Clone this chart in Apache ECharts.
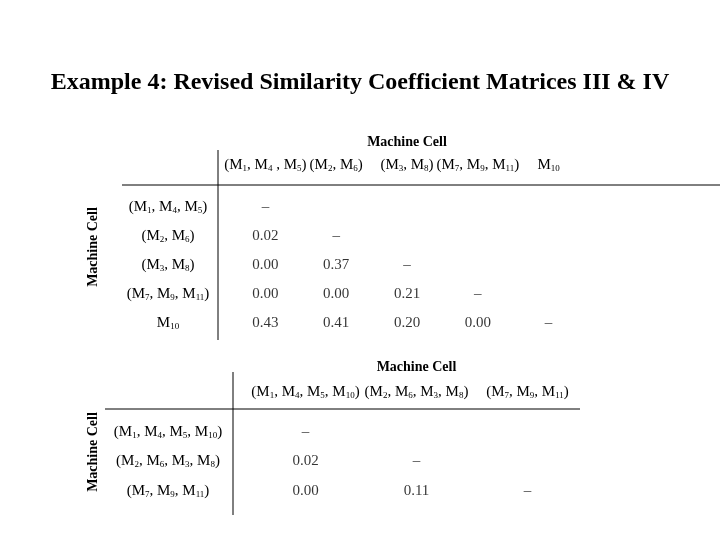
<!DOCTYPE html>
<html>
<head>
<meta charset="utf-8">
<script src="https://cdn.jsdelivr.net/npm/echarts@6/dist/echarts.min.js"></script>
<style>body{margin:0;background:#fff}</style>
</head>
<body>
<div id="main" style="width:720px;height:540px;"></div>
<script>
// matrix III
var cells3 = ['(M1, M4 , M5)', '(M2, M6)', '(M3, M8)', '(M7, M9, M11)', 'M10'];
var rows3 = ['(M1, M4, M5)', '(M2, M6)', '(M3, M8)', '(M7, M9, M11)', 'M10'];
var values3 = [
    ['–'],
    ['0.02', '–'],
    ['0.00', '0.37', '–'],
    ['0.00', '0.00', '0.21', '–'],
    ['0.43', '0.41', '0.20', '0.00', '–']
];
// matrix IV
var cells4 = ['(M1, M4, M5, M10)', '(M2, M6, M3, M8)', '(M7, M9, M11)'];
var rows4 = ['(M1, M4, M5, M10)', '(M2, M6, M3, M8)', '(M7, M9, M11)'];
var values4 = [
    ['–'],
    ['0.02', '–'],
    ['0.00', '0.11', '–']
];

var FONT = '"Liberation Serif", "DejaVu Serif", serif';

function sub(s) {
    return s.replace(/M(\d+)/g, 'M{s|$1}');
}
var rich = {s: {fontSize: 9, fontFamily: FONT, color: '#000', padding: [7, 0, 0, 0]}};

function toPoints(vals) {
    var pts = [];
    for (var r = 0; r < vals.length; r++)
        for (var c = 0; c < vals[r].length; c++)
            pts.push([c, r, vals[r][c]]);
    return pts;
}

function axisPair(idx, cols, rows, xGap, yGap, nameGapX) {
    return {
        x: {
            type: 'category', gridIndex: idx, position: 'top', data: cols,
            axisLine: {show: false}, axisTick: {show: false},
            axisLabel: {margin: xGap, fontSize: 15, fontFamily: FONT, color: '#000', interval: 0,
                formatter: function (v) { return sub(v); }, rich: rich},
            name: 'Machine Cell', nameLocation: 'middle', nameGap: nameGapX,
            nameTextStyle: {fontSize: 14, fontWeight: 'bold', fontFamily: FONT, color: '#000'}
        },
        y: {
            type: 'category', gridIndex: idx, inverse: true, data: rows,
            axisLine: {show: false}, axisTick: {show: false},
            axisLabel: {margin: yGap, align: 'center', fontSize: 15, fontFamily: FONT, color: '#000',
                formatter: function (v) { return sub(v); }, rich: rich}
        }
    };
}

var a3 = axisPair(0, cells3, rows3, 20, 62, 44);
var a4 = axisPair(1, cells4, rows4, 17, 82, 43);

function line(x1, y1, x2, y2) {
    return {type: 'line', shape: {x1: x1, y1: y1, x2: x2, y2: y2}, style: {stroke: '#000', lineWidth: 1}};
}
function sideName(x, y) {
    return {type: 'text', x: x, y: y, rotation: Math.PI / 2,
        style: {text: 'Machine Cell', fontSize: 14, fontWeight: 'bold', fontFamily: FONT, fill: '#000',
            align: 'center', verticalAlign: 'middle'}};
}

var labelStyle = {show: true, formatter: function (p) { return p.value[2]; },
    fontSize: 15, fontFamily: FONT, color: '#000', position: 'inside'};

var option = {
    backgroundColor: '#fff',
    animation: false,
    title: {
        text: 'Example 4: Revised Similarity Coefficient Matrices III & IV',
        left: 'center', top: 66,
        textStyle: {fontSize: 24, fontWeight: 'bold', fontFamily: FONT, color: '#000'}
    },
    grid: [
        {left: 230, top: 193, width: 354, height: 145},
        {left: 250, top: 417, width: 333, height: 89}
    ],
    xAxis: [a3.x, a4.x],
    yAxis: [a3.y, a4.y],
    graphic: [
        line(218, 150, 218, 340),
        line(122, 185, 720, 185),
        line(233, 372, 233, 515),
        line(105, 409, 580, 409),
        sideName(93, 247),
        sideName(93, 452)
    ],
    series: [
        {type: 'scatter', xAxisIndex: 0, yAxisIndex: 0, symbolSize: 0, itemStyle: {color: '#000'},
            data: toPoints(values3), label: labelStyle},
        {type: 'scatter', xAxisIndex: 1, yAxisIndex: 1, symbolSize: 0, itemStyle: {color: '#000'},
            data: toPoints(values4), label: labelStyle}
    ]
};
echarts.init(document.getElementById('main')).setOption(option);
</script>
</body>
</html>
